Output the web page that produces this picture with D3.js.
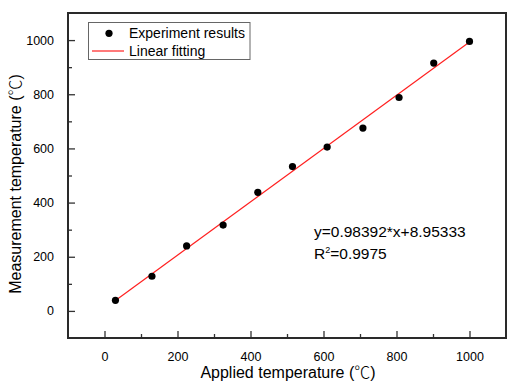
<!DOCTYPE html>
<html>
<head>
<meta charset="utf-8">
<script src="https://cdn.jsdelivr.net/npm/d3@7"></script>
<style>
  body { margin: 0; background: white; }
  text { font-family: Arial, "Liberation Sans", sans-serif; fill: #000; }
  .axis text { font-size: 12.5px; }
  .axis line { stroke: #333; stroke-width: 1.3; }
  .cjk { font-family: "Noto Sans CJK SC", sans-serif; }
</style>
</head>
<body>
<div id="chart"></div>
<script>
let applied = [30, 130, 225, 325, 420, 515, 610, 708, 807, 902, 1000];
let measured = [39, 128, 240, 317, 438, 533, 605, 675, 788, 915, 995];

// fitted line coefficients
let slope = 0.98392, intercept = 8.95333;

// tick values
let majorTicks = [0, 200, 400, 600, 800, 1000];
let minorTicks = [100, 300, 500, 700, 900];

let width = 507, height = 383;
let margin = { top: 13, left: 68, right: 1, bottom: 45 };

let svg = d3.select('#chart')
  .append('svg')
  .attr('width', width)
  .attr('height', height);

// scales
let xScale = d3.scaleLinear()
  .domain([-100, 1100])
  .range([margin.left, width - margin.right]);

let yScale = d3.scaleLinear()
  .domain([-100, 1100])
  .range([height - margin.bottom, margin.top]);

// x axis, ticks point inwards
let xAxis = d3.axisBottom(xScale)
  .tickValues(majorTicks)
  .tickSize(-7)
  .tickPadding(14)
  .tickFormat(d3.format('d'));
svg.append('g')
  .attr('class', 'axis')
  .attr('transform', `translate(0, ${height - margin.bottom})`)
  .call(xAxis)
  .call(g => g.select('.domain').remove());

svg.append('g')
  .attr('class', 'axis')
  .attr('transform', `translate(0, ${height - margin.bottom})`)
  .call(d3.axisBottom(xScale).tickValues(minorTicks).tickSize(-4).tickFormat(''))
  .call(g => g.select('.domain').remove());

// y axis
let yAxis = d3.axisLeft(yScale)
  .tickValues(majorTicks)
  .tickSize(-7)
  .tickPadding(14)
  .tickFormat(d3.format('d'));
svg.append('g')
  .attr('class', 'axis')
  .attr('transform', `translate(${margin.left}, 0)`)
  .call(yAxis)
  .call(g => g.select('.domain').remove());

svg.append('g')
  .attr('class', 'axis')
  .attr('transform', `translate(${margin.left}, 0)`)
  .call(d3.axisLeft(yScale).tickValues(minorTicks).tickSize(-4).tickFormat(''))
  .call(g => g.select('.domain').remove());

// frame around the plot
svg.append('rect')
  .attr('x', margin.left)
  .attr('y', margin.top)
  .attr('width', width - margin.right - margin.left)
  .attr('height', height - margin.bottom - margin.top)
  .attr('fill', 'none')
  .attr('stroke', '#2a2a2a')
  .attr('stroke-width', 2);

// fitted line from first to last applied temperature
let xFirst = d3.min(applied), xLast = d3.max(applied);
svg.append('line')
  .attr('x1', xScale(xFirst))
  .attr('y1', yScale(slope * xFirst + intercept))
  .attr('x2', xScale(xLast))
  .attr('y2', yScale(slope * xLast + intercept))
  .attr('stroke', '#ff2020')
  .attr('stroke-width', 1.2);

// experiment points
svg.append('g')
  .selectAll('circle')
  .data(applied)
  .enter()
  .append('circle')
    .attr('cx', d => xScale(d))
    .attr('cy', (d, i) => yScale(measured[i]))
    .attr('r', 3.6)
    .attr('fill', '#000');

// legend
let legend = svg.append('g');
legend.append('rect')
  .attr('x', 88.5)
  .attr('y', 22.5)
  .attr('width', 161.5)
  .attr('height', 37)
  .attr('fill', 'white')
  .attr('stroke', '#666')
  .attr('stroke-width', 1);
legend.append('circle')
  .attr('cx', 109)
  .attr('cy', 33.3)
  .attr('r', 3.6)
  .attr('fill', '#000');
legend.append('line')
  .attr('x1', 92).attr('x2', 124)
  .attr('y1', 51).attr('y2', 51)
  .attr('stroke', '#ff2020')
  .attr('stroke-width', 1.2);
legend.append('text')
  .attr('x', 129)
  .attr('y', 38.3)
  .style('font-size', '14px')
  .text('Experiment results');
legend.append('text')
  .attr('x', 129)
  .attr('y', 56)
  .style('font-size', '14px')
  .text('Linear fitting');

// equation of the fit
svg.append('text')
  .attr('x', 314)
  .attr('y', 237)
  .style('font-size', '15.5px')
  .text('y=0.98392*x+8.95333');

let r2 = svg.append('text')
  .attr('x', 314)
  .attr('y', 259)
  .style('font-size', '15.5px');
r2.append('tspan').text('R');
r2.append('tspan').attr('dy', -6).style('font-size', '9px').text('2');
r2.append('tspan').attr('dy', 6).text('=0.9975');

// axis titles, the degree sign comes from the CJK font like the original
let xTitle = svg.append('text')
  .attr('x', 288)
  .attr('y', 378)
  .style('text-anchor', 'middle')
  .style('font-size', '16px');
xTitle.append('tspan').text('Applied temperature (');
xTitle.append('tspan').attr('class', 'cjk').style('font-weight', 300).text('\u2103');
xTitle.append('tspan').text(')');

let yTitle = svg.append('text')
  .attr('transform', 'translate(21, 184) rotate(-90)')
  .style('text-anchor', 'middle')
  .style('font-size', '16px');
yTitle.append('tspan').text('Measurement temperature (');
yTitle.append('tspan').attr('class', 'cjk').style('font-weight', 300).text('\u2103');
yTitle.append('tspan').text(')');
</script>
</body>
</html>
